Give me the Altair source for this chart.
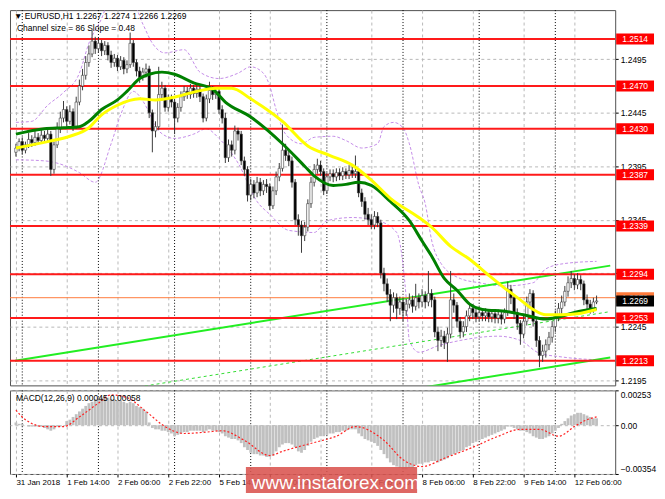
import altair as alt
import pandas as pd

# hourly EURUSD candles, bar 0 = 31 Jan 22:00 ... bar 183 = 12 Feb 13:00
first_open = 1.2408
closes = [
    1.2412, 1.2418, 1.2410, 1.2415, 1.2420, 1.2417, 1.2422, 1.2419, 1.2424, 1.2421,
    1.2425, 1.2392, 1.2415, 1.2430, 1.2440, 1.2448, 1.2437, 1.2446, 1.2432, 1.2455,
    1.2470, 1.2480, 1.2492, 1.2500, 1.2512, 1.2505, 1.2510, 1.2503, 1.2508, 1.2499,
    1.2492, 1.2496, 1.2488, 1.2494, 1.2486, 1.2490, 1.2510, 1.2492, 1.2484, 1.2478,
    1.2483, 1.2486, 1.2445, 1.2428, 1.2432, 1.2462, 1.2468, 1.2450, 1.2458, 1.2455,
    1.2440, 1.2450, 1.2460, 1.2465, 1.2462, 1.2468, 1.2463, 1.2467, 1.2460, 1.2440,
    1.2458, 1.2466, 1.2462, 1.2465, 1.2448, 1.2440, 1.2403, 1.2415, 1.2410, 1.2428,
    1.2425, 1.2400, 1.2392, 1.2368, 1.2378, 1.2370, 1.2380, 1.2372, 1.2378, 1.2376,
    1.2358, 1.2372, 1.2385, 1.2393, 1.2410, 1.2405, 1.2400, 1.2380, 1.2345, 1.2340,
    1.2330, 1.2338, 1.2360, 1.2380, 1.2392, 1.2396, 1.2390, 1.2372, 1.2385, 1.2388,
    1.2385, 1.2389, 1.2386, 1.2390, 1.2387, 1.2391, 1.2388, 1.2390, 1.2370, 1.2362,
    1.2350, 1.2345, 1.2340, 1.2348, 1.2342, 1.2295, 1.2285, 1.2275, 1.2265, 1.2272,
    1.2262, 1.2268, 1.2260, 1.2266, 1.2270, 1.2264, 1.2272, 1.2268, 1.2274, 1.2268,
    1.2276, 1.2270, 1.2240, 1.2232, 1.2236, 1.2230, 1.2238, 1.2270, 1.2265, 1.2250,
    1.2240, 1.2245, 1.2255, 1.2262, 1.2258, 1.2254, 1.2258, 1.2255, 1.2258, 1.2254,
    1.2257, 1.2253, 1.2256, 1.2252, 1.2258, 1.2280, 1.2272, 1.2258, 1.2248, 1.2238,
    1.2250, 1.2268, 1.2276, 1.2250, 1.2232, 1.2218, 1.2222, 1.2228, 1.2235, 1.2245,
    1.2255, 1.2262, 1.2268, 1.2278, 1.2286, 1.2290, 1.2284, 1.2289, 1.2285, 1.2270,
    1.2266, 1.2262, 1.2268, 1.2269,
]
highs = [
    1.2416, 1.2421, 1.2422, 1.2418, 1.2426, 1.2424, 1.2428, 1.2426, 1.2429, 1.2428,
    1.2430, 1.2428, 1.2418, 1.2436, 1.2446, 1.2456, 1.2451, 1.2452, 1.2449, 1.2460,
    1.2476, 1.2486, 1.2498, 1.2508, 1.2522, 1.2516, 1.2515, 1.2513, 1.2512, 1.2511,
    1.2503, 1.2500, 1.2499, 1.2498, 1.2497, 1.2494, 1.2520, 1.2513, 1.2495, 1.2488,
    1.2487, 1.2491, 1.2489, 1.2448, 1.2437, 1.2488, 1.2474, 1.2471, 1.2462, 1.2462,
    1.2458, 1.2454, 1.2465, 1.2470, 1.2469, 1.2472, 1.2471, 1.2471, 1.2470, 1.2463,
    1.2462, 1.2474, 1.2470, 1.2469, 1.2468, 1.2452, 1.2445, 1.2420, 1.2419, 1.2433,
    1.2431, 1.2428, 1.2404, 1.2395, 1.2383, 1.2382, 1.2385, 1.2384, 1.2382, 1.2383,
    1.2379, 1.2376, 1.2390, 1.2398, 1.2434, 1.2416, 1.2410, 1.2404, 1.2383, 1.2350,
    1.2344, 1.2343, 1.2364, 1.2385, 1.2397, 1.2402, 1.2400, 1.2393, 1.2389, 1.2392,
    1.2392, 1.2393, 1.2393, 1.2394, 1.2393, 1.2396, 1.2395, 1.2405, 1.2393, 1.2374,
    1.2366, 1.2356, 1.2350, 1.2353, 1.2352, 1.2345, 1.2300, 1.2290, 1.2280, 1.2277,
    1.2276, 1.2273, 1.2272, 1.2271, 1.2276, 1.2274, 1.2285, 1.2276, 1.2280, 1.2278,
    1.2297, 1.2280, 1.2273, 1.2245, 1.2242, 1.2241, 1.2244, 1.2297, 1.2276, 1.2268,
    1.2254, 1.2250, 1.2260, 1.2267, 1.2266, 1.2262, 1.2263, 1.2261, 1.2262, 1.2261,
    1.2261, 1.2260, 1.2261, 1.2259, 1.2262, 1.2287, 1.2284, 1.2275, 1.2262, 1.2251,
    1.2255, 1.2273, 1.2280, 1.2279, 1.2254, 1.2236, 1.2228, 1.2233, 1.2240, 1.2250,
    1.2260, 1.2267, 1.2274, 1.2283, 1.2292, 1.2297, 1.2294, 1.2295, 1.2293, 1.2288,
    1.2275, 1.2270, 1.2272, 1.2274,
]
lows = [
    1.2404, 1.2409, 1.2406, 1.2407, 1.2412, 1.2413, 1.2414, 1.2416, 1.2416, 1.2417,
    1.2418, 1.2386, 1.2388, 1.2412, 1.2426, 1.2436, 1.2432, 1.2434, 1.2428, 1.2430,
    1.2452, 1.2466, 1.2476, 1.2488, 1.2497, 1.2500, 1.2501, 1.2498, 1.2499, 1.2494,
    1.2487, 1.2488, 1.2484, 1.2485, 1.2481, 1.2482, 1.2487, 1.2488, 1.2479, 1.2473,
    1.2475, 1.2478, 1.2440, 1.2408, 1.2422, 1.2429, 1.2456, 1.2446, 1.2446, 1.2450,
    1.2425, 1.2436, 1.2446, 1.2456, 1.2458, 1.2458, 1.2459, 1.2459, 1.2455, 1.2436,
    1.2437, 1.2454, 1.2457, 1.2458, 1.2444, 1.2435, 1.2398, 1.2399, 1.2404, 1.2406,
    1.2419, 1.2396, 1.2386, 1.2362, 1.2363, 1.2365, 1.2366, 1.2367, 1.2368, 1.2370,
    1.2354, 1.2355, 1.2368, 1.2381, 1.2390, 1.2400, 1.2395, 1.2375, 1.2340, 1.2330,
    1.2314, 1.2325, 1.2334, 1.2356, 1.2376, 1.2388, 1.2386, 1.2368, 1.2369, 1.2381,
    1.2380, 1.2381, 1.2382, 1.2382, 1.2383, 1.2383, 1.2384, 1.2384, 1.2366, 1.2357,
    1.2345, 1.2340, 1.2336, 1.2336, 1.2338, 1.2290, 1.2278, 1.2268, 1.2250, 1.2258,
    1.2252, 1.2256, 1.2250, 1.2255, 1.2262, 1.2258, 1.2260, 1.2262, 1.2263, 1.2262,
    1.2264, 1.2263, 1.2235, 1.2222, 1.2226, 1.2224, 1.2212, 1.2234, 1.2258, 1.2244,
    1.2234, 1.2235, 1.2240, 1.2250, 1.2252, 1.2249, 1.2250, 1.2250, 1.2250, 1.2249,
    1.2249, 1.2248, 1.2248, 1.2247, 1.2248, 1.2255, 1.2266, 1.2252, 1.2242, 1.2228,
    1.2234, 1.2246, 1.2262, 1.2245, 1.2226, 1.2207, 1.2212, 1.2216, 1.2223, 1.2230,
    1.2240, 1.2250, 1.2257, 1.2264, 1.2273, 1.2281, 1.2279, 1.2280, 1.2279, 1.2265,
    1.2260, 1.2257, 1.2258, 1.2266,
]
macd_hist = [
    0.0002, 0.0001, 0.0001, 0.0000, -0.0001, -0.0001, -0.0001, -0.0001, -0.0001, -0.0002,
    -0.0003, -0.0004, -0.0003, -0.0001, -0.0001, 0.0000, 0.0003, 0.0004, 0.0006, 0.0008,
    0.0010, 0.0012, 0.0014, 0.0016, 0.0017, 0.0019, 0.0020, 0.0020, 0.0021, 0.0020,
    0.0019, 0.0019, 0.0018, 0.0018, 0.0017, 0.0016, 0.0017, 0.0016, 0.0014, 0.0013,
    0.0012, 0.0010, 0.0002, -0.0002, -0.0003, -0.0003, -0.0004, -0.0004, -0.0005, -0.0006,
    -0.0008, -0.0007, -0.0006, -0.0005, -0.0005, -0.0004, -0.0004, -0.0004, -0.0004, -0.0005,
    -0.0004, -0.0003, -0.0004, -0.0004, -0.0005, -0.0006, -0.0008, -0.0009, -0.0010, -0.0010,
    -0.0011, -0.0013, -0.0016, -0.0018, -0.0020, -0.0021, -0.0021, -0.0022, -0.0022, -0.0023,
    -0.0023, -0.0022, -0.0019, -0.0016, -0.0014, -0.0013, -0.0013, -0.0014, -0.0016, -0.0019,
    -0.0020, -0.0018, -0.0015, -0.0012, -0.0010, -0.0009, -0.0008, -0.0008, -0.0007, -0.0006,
    -0.0006, -0.0005, -0.0005, -0.0004, -0.0004, -0.0003, -0.0003, -0.0003, -0.0006, -0.0008,
    -0.0010, -0.0011, -0.0012, -0.0013, -0.0015, -0.0018, -0.0021, -0.0024, -0.0027, -0.0029,
    -0.0030, -0.0031, -0.0032, -0.0032, -0.0031, -0.0031, -0.0029, -0.0028, -0.0028, -0.0027,
    -0.0027, -0.0026, -0.0026, -0.0027, -0.0026, -0.0025, -0.0024, -0.0022, -0.0021, -0.0020,
    -0.0019, -0.0018, -0.0016, -0.0015, -0.0013, -0.0012, -0.0011, -0.0010, -0.0009, -0.0008,
    -0.0007, -0.0006, -0.0005, -0.0004, -0.0003, -0.0001, -0.0001, -0.0002, -0.0003, -0.0004,
    -0.0004, -0.0005, -0.0006, -0.0008, -0.0009, -0.0010, -0.0010, -0.0009, -0.0008, -0.0006,
    -0.0004, -0.0002, 0.0001, 0.0003, 0.0005, 0.0007, 0.0008, 0.0009, 0.0009, 0.0008,
    0.0007, 0.0006, 0.0005, 0.0005,
]

# MACD signal line (red dotted), read at points
sig_idx = [0, 3, 9, 15, 20, 26, 30, 35, 41, 47, 53, 60, 65, 72, 80, 84, 90, 95, 101, 107,
           116, 122, 128, 135, 144, 152, 159, 165, 171, 176, 179, 183]
sig_val = [0.0011, 0.0004, -0.0001, -0.0001, 0.0006, 0.0016, 0.0022, 0.0020, 0.0010, -0.0001,
           -0.0006, -0.0005, -0.0004, -0.0011, -0.0022, -0.0019, -0.0015, -0.0012, -0.0008, -0.0001,
           -0.0011, -0.0025, -0.0030, -0.0024, -0.0016, -0.0008, -0.0003, -0.0003, -0.0008, -0.0001,
           0.0003, 0.0006]

# moving averages
green_idx = [0, 9, 15, 20, 23, 27, 32, 35, 39, 42, 46, 50, 56, 62, 66, 74, 84, 91, 94, 100,
             104, 108, 112, 118, 124, 128, 131, 135, 139, 143, 147, 155, 160, 167, 171, 177, 183]
green_val = [1.2425, 1.2430, 1.2431, 1.2432, 1.2437, 1.2448, 1.2457, 1.2465, 1.2477, 1.2481,
             1.2483, 1.2481, 1.2473, 1.2467, 1.2455, 1.2441, 1.2416, 1.2395, 1.2386, 1.2377,
             1.2378, 1.2380, 1.2377, 1.2362, 1.2344, 1.2325, 1.2311, 1.2290, 1.2279, 1.2266,
             1.2261, 1.2259, 1.2256, 1.2252, 1.2254, 1.2259, 1.2262]
yellow_idx = [0, 10, 17, 23, 27, 32, 39, 44, 49, 57, 63, 68, 74, 84, 92, 99, 106, 112, 118, 127,
              131, 137, 143, 149, 154, 159, 163, 167, 172, 177, 183]
yellow_val = [1.2412, 1.2418, 1.2423, 1.2431, 1.2443, 1.2452, 1.2458, 1.2457, 1.2459, 1.2465,
              1.2468, 1.2468, 1.2458, 1.2437, 1.2414, 1.2405, 1.2396, 1.2382, 1.2365, 1.2347,
              1.2338, 1.2320, 1.2308, 1.2293, 1.2281, 1.2270, 1.2261, 1.2256, 1.2256, 1.2257,
              1.2261]

# envelope bands (violet dashed)
band_up_idx = [0, 5, 10, 15, 20, 23, 27, 29, 37, 40, 43, 47, 53, 58, 64, 70, 74, 78, 80, 82,
               85, 90, 94, 100, 104, 109, 114, 116, 119, 122, 124, 127, 129, 131, 134, 140, 146,
               154, 163, 167, 173, 183]
band_up_val = [1.2436, 1.2437, 1.2452, 1.2464, 1.2482, 1.2510, 1.2533, 1.2546, 1.2546, 1.2528,
               1.2510, 1.2501, 1.2504, 1.2483, 1.2477, 1.2482, 1.2488, 1.2482, 1.2470, 1.2448,
               1.2425, 1.2416, 1.2422, 1.2423, 1.2419, 1.2412, 1.2416, 1.2432, 1.2436, 1.2431,
               1.2416, 1.2377, 1.2360, 1.2326, 1.2304, 1.2290, 1.2286, 1.2283, 1.2286, 1.2299,
               1.2304, 1.2306]
band_lo_idx = [0, 9, 15, 20, 25, 30, 33, 37, 40, 43, 45, 50, 56, 60, 64, 70, 76, 80, 86, 94,
               98, 106, 114, 120, 123, 124, 127, 133, 140, 152, 159, 165, 171, 177, 183]
band_lo_val = [1.2401, 1.2400, 1.2396, 1.2389, 1.2380, 1.2416, 1.2443, 1.2465, 1.2456, 1.2439,
               1.2428, 1.2421, 1.2425, 1.2430, 1.2421, 1.2398, 1.2362, 1.2350, 1.2335, 1.2333,
               1.2344, 1.2347, 1.2344, 1.2333, 1.2272, 1.2232, 1.2221, 1.2227, 1.2232, 1.2236,
               1.2232, 1.2220, 1.2217, 1.2215, 1.2214]

# regression channel (size 86, slope 0.48)
chan_idx = [-0.3, 187.3]
chan_upper = [1.2213, 1.2302]
chan_mid = [1.2170, 1.2259]
chan_lower = [1.2127, 1.2216]

levels = [1.2514, 1.2470, 1.2430, 1.2387, 1.2339, 1.2294, 1.2253, 1.2213]
ask_price = 1.2272
bid_price = 1.2269

price_ticks = [1.2195, 1.2220, 1.2245, 1.2270, 1.2295, 1.2320, 1.2345, 1.2370,
               1.2395, 1.2420, 1.2445, 1.2470, 1.2495, 1.2520]
macd_ticks = [-0.00354, 0.0, 0.00253]
time_labels = ["31 Jan 2018", "1 Feb 14:00", "2 Feb 06:00", "2 Feb 22:00", "5 Feb 14:00",
               "6 Feb 06:00", "6 Feb 22:00", "7 Feb 14:00", "8 Feb 06:00", "8 Feb 22:00",
               "9 Feb 14:00", "12 Feb 06:00"]
day_breaks = [2, 26, 50, 74, 98, 122, 146, 170]

header = "\u25bc  EURUSD,H1  1.2267 1.2274 1.2266 1.2269"
channel_text = "Channel size = 86 Slope = 0.48"
macd_text = "MACD(12,26,9) 0.00045 0.00058"
watermark = "www.instaforex.com"

W, H1, H2 = 608, 377, 84
FONT = "Liberation Sans"
GRID = "#b8b8b8"

xs = alt.Scale(domain=[-0.3, 187.3], nice=False, zero=False)
ys = alt.Scale(domain=[1.2190, 1.2541], nice=False, zero=False)
ms = alt.Scale(domain=[-0.00354, 0.00253], nice=False, zero=False)
grid_idx = list(range(0, 188, 8))

opens = [first_open] + closes[:-1]
bars = pd.DataFrame({"i": list(range(len(closes))), "o": opens, "c": closes,
                     "h": highs, "l": lows, "hist": macd_hist})
bars["dir"] = ["up" if c >= o else "down" for o, c in zip(opens, closes)]


def X(f, **kw):
    return alt.X(f, scale=xs, title=None, **kw)


def Y(f, **kw):
    return alt.Y(f, scale=ys, title=None, **kw)


def series(idx, val):
    return pd.DataFrame({"i": idx, "v": val})


def label(txt):
    return pd.DataFrame({"t": [txt]})


days = alt.Chart(pd.DataFrame({"d": day_breaks})).mark_rule(
    color="black", strokeDash=[1, 2], strokeWidth=1
).encode(x=X("d:Q"))

# ---- price panel ----
bands = alt.layer(
    alt.Chart(series(band_up_idx, band_up_val)).mark_line(
        color="#c58de8", strokeDash=[3, 2], strokeWidth=1, clip=True, interpolate="monotone"
    ).encode(x=X("i:Q"), y=Y("v:Q")),
    alt.Chart(series(band_lo_idx, band_lo_val)).mark_line(
        color="#c58de8", strokeDash=[3, 2], strokeWidth=1, clip=True, interpolate="monotone"
    ).encode(x=X("i:Q"), y=Y("v:Q")),
)

chan = alt.layer(
    alt.Chart(series(chan_idx, chan_upper)).mark_line(color="#22ee22", strokeWidth=2, clip=True)
    .encode(x=X("i:Q"), y=Y("v:Q")),
    alt.Chart(series(chan_idx, chan_lower)).mark_line(color="#22ee22", strokeWidth=2, clip=True)
    .encode(x=X("i:Q"), y=Y("v:Q")),
    alt.Chart(series(chan_idx, chan_mid)).mark_line(
        color="#33dd33", strokeWidth=1, strokeDash=[3, 3], clip=True
    ).encode(x=X("i:Q"), y=Y("v:Q")),
)

lvl_df = pd.DataFrame({"lvl": levels})
lvl_lines = alt.Chart(lvl_df).mark_rule(color="#ff1a1a", strokeWidth=2).encode(y=Y("lvl:Q"))
ask_line = alt.Chart(pd.DataFrame({"lvl": [ask_price]})).mark_rule(
    color="#ff7a3a", strokeWidth=1
).encode(y=Y("lvl:Q"))

wicks = alt.Chart(bars).mark_rule(color="#3a3a3a", strokeWidth=1).encode(
    x=X("i:Q", axis=alt.Axis(values=grid_idx, labels=False, ticks=False, domain=False,
                              grid=True, gridColor=GRID, gridDash=[3, 3])),
    y=Y("l:Q", axis=alt.Axis(orient="right", values=price_ticks, format=".4f", tickSize=3,
                              labelPadding=2, domain=False, grid=True, gridColor=GRID,
                              gridDash=[3, 3], labelOverlap=False)),
    y2="h:Q",
)
bodies = alt.Chart(bars).mark_bar(size=2.4, stroke="#3a3a3a", strokeWidth=0.6).encode(
    x=X("i:Q"),
    y=Y("o:Q"),
    y2="c:Q",
    color=alt.Color("dir:N", scale=alt.Scale(domain=["up", "down"], range=["#ffffff", "#000000"]),
                    legend=None),
)

ma_green = alt.Chart(series(green_idx, green_val)).mark_line(
    color="#008000", strokeWidth=3, interpolate="monotone"
).encode(x=X("i:Q"), y=Y("v:Q"))
ma_yellow = alt.Chart(series(yellow_idx, yellow_val)).mark_line(
    color="#ffff00", strokeWidth=3, interpolate="monotone"
).encode(x=X("i:Q"), y=Y("v:Q"))


def price_box(df, fill):
    box = alt.Chart(df).mark_rect(color=fill, yOffset=-5.5, y2Offset=5.5).encode(
        x=alt.value(W + 1), x2=alt.value(W + 39), y=Y("lvl:Q"), y2="lvl:Q"
    )
    txt = alt.Chart(df).mark_text(color="white", fontSize=8.5, font=FONT).encode(
        x=alt.value(W + 20), y=Y("lvl:Q"), text=alt.Text("lvl:Q", format=".4f")
    )
    return box + txt


boxes = (price_box(lvl_df, "#ff0000")
         + price_box(pd.DataFrame({"lvl": [ask_price]}), "#ff7a3a")
         + price_box(pd.DataFrame({"lvl": [bid_price]}), "#000000"))

head = alt.Chart(label(header)).mark_text(
    align="left", baseline="middle", fontSize=8.5, font=FONT, color="black"
).encode(x=alt.value(4), y=alt.value(6), text="t:N")
chan_lbl = alt.Chart(label(channel_text)).mark_text(
    align="left", baseline="middle", fontSize=8.5, font=FONT, color="black"
).encode(x=alt.value(7), y=alt.value(18), text="t:N")

main = alt.layer(
    days, bands, chan, lvl_lines, ask_line, wicks, bodies, ma_green, ma_yellow,
    boxes, head, chan_lbl
).properties(width=W, height=H1)

# ---- MACD panel ----
label_expr = ("datum.value % 16 == 0 ? ["
              + ",".join("'%s'" % t for t in time_labels)
              + "][datum.value / 16] : ''")

hist = alt.Chart(bars).mark_bar(size=2.8, color="#c0c0c0").encode(
    x=X("i:Q", axis=alt.Axis(values=grid_idx, labelExpr=label_expr, labelAlign="left",
                              labelPadding=2, tickSize=3, domain=False, grid=True,
                              gridColor=GRID, gridDash=[3, 3], labelFlush=False,
                              labelOverlap=False, labelBound=False, labelFontSize=8,
                              tickOpacity={"condition": {"test": "datum.value % 16 == 0",
                                                         "value": 1}, "value": 0})),
    y=alt.Y("hist:Q", scale=ms, title=None,
            axis=alt.Axis(orient="right", values=macd_ticks, tickSize=3, labelPadding=2,
                          domain=False, grid=True, gridColor=GRID, gridDash=[3, 3],
                          labelFlush=True, labelOverlap=False,
                          labelExpr="datum.value == 0 ? '0.00' : format(datum.value, '.5f')")),
    y2=alt.datum(0),
)
signal = alt.Chart(series(sig_idx, sig_val)).mark_line(
    color="#ff2020", strokeDash=[2, 2], strokeWidth=1.2, interpolate="monotone"
).encode(x=X("i:Q"), y=alt.Y("v:Q", scale=ms, title=None))

macd_lbl = alt.Chart(label(macd_text)).mark_text(
    align="left", baseline="middle", fontSize=8.5, font=FONT, color="black"
).encode(x=alt.value(6), y=alt.value(8), text="t:N")

wm_box = alt.Chart(label(watermark)).mark_rect(color="#d9534f", opacity=0.88).encode(
    x=alt.value(237), x2=alt.value(409), y=alt.value(77), y2=alt.value(103)
)
wm_txt = alt.Chart(label(watermark)).mark_text(
    align="left", baseline="alphabetic", fontSize=19, font=FONT, color="white"
).encode(x=alt.value(243), y=alt.value(99), text="t:N")

macd = alt.layer(days, hist, signal, macd_lbl, wm_box, wm_txt).properties(width=W, height=H2)

chart = (
    alt.vconcat(main, macd, spacing=3, padding=0)
    .configure_view(stroke="#505050", strokeWidth=1)
    .configure_axis(labelFont=FONT, labelFontSize=8.5, labelColor="black", tickColor="black")
)

chart.save("out.html", embed_options={"renderer": "svg", "actions": False})
